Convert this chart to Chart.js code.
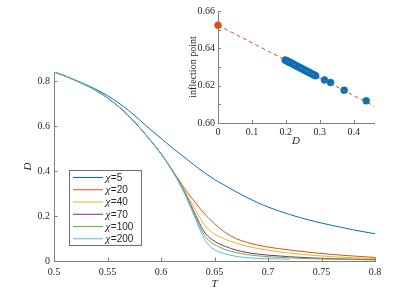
<!DOCTYPE html>
<html>
<head>
<meta charset="utf-8">
<script src="https://cdn.jsdelivr.net/npm/chart.js@4.4.1/dist/chart.umd.min.js"></script>
<style>
  html, body { margin: 0; padding: 0; background: #fff; }
  #wrap { position: relative; width: 415px; height: 291px; }
  #main { position: absolute; left: 0; top: 0; }
  #inset { position: absolute; left: 170px; top: 0; }
</style>
</head>
<body>
<div id="wrap">
  <canvas id="main" width="415" height="291" style="width:415px;height:291px"></canvas>
  <canvas id="inset" width="245" height="160" style="width:245px;height:160px"></canvas>
</div>
<script>
// T grid shared by the curves (finer around the drop)
var temps = [0.50, 0.51, 0.52, 0.53, 0.54, 0.55, 0.56, 0.57, 0.58, 0.59, 0.60,
             0.605, 0.61, 0.615, 0.62, 0.625, 0.63, 0.635, 0.64, 0.645, 0.65, 0.655, 0.66,
             0.67, 0.68, 0.69, 0.70, 0.72, 0.74, 0.76, 0.78, 0.80];

var chiLabels = ['5', '20', '40', '70', '100', '200'];
var chiColors = ['#0072BD', '#D95319', '#EDB120', '#7E2F8E', '#77AC30', '#4DBEEE'];

var dChi5   = [0.840, 0.823, 0.804, 0.784, 0.761, 0.735, 0.704, 0.668, 0.627, 0.585, 0.545,
               0.525, 0.505, 0.486, 0.468, 0.449, 0.430, 0.412, 0.395, 0.378, 0.362, 0.348, 0.335,
               0.308, 0.283, 0.260, 0.240, 0.207, 0.180, 0.158, 0.138, 0.121];
var dChi20  = [0.840, 0.823, 0.803, 0.781, 0.756, 0.725, 0.688, 0.644, 0.593, 0.537, 0.477,
               0.444, 0.409, 0.372, 0.336, 0.303, 0.272, 0.242, 0.213, 0.188, 0.166, 0.145, 0.127,
               0.100, 0.083, 0.071, 0.062, 0.049, 0.038, 0.029, 0.022, 0.016];
var dChi40  = [0.840, 0.823, 0.803, 0.781, 0.756, 0.725, 0.688, 0.644, 0.593, 0.537, 0.477,
               0.443, 0.407, 0.368, 0.328, 0.287, 0.245, 0.203, 0.165, 0.138, 0.120, 0.107, 0.096,
               0.080, 0.066, 0.056, 0.048, 0.035, 0.026, 0.019, 0.014, 0.011];
var dChi70  = [0.840, 0.823, 0.803, 0.781, 0.756, 0.725, 0.688, 0.644, 0.593, 0.537, 0.477,
               0.443, 0.406, 0.367, 0.325, 0.278, 0.228, 0.178, 0.133, 0.105, 0.088, 0.075, 0.065,
               0.049, 0.038, 0.031, 0.026, 0.019, 0.014, 0.010, 0.008, 0.006];
var dChi100 = [0.840, 0.823, 0.803, 0.781, 0.756, 0.725, 0.688, 0.644, 0.593, 0.537, 0.477,
               0.443, 0.406, 0.366, 0.323, 0.274, 0.221, 0.167, 0.119, 0.090, 0.073, 0.061, 0.051,
               0.038, 0.029, 0.023, 0.019, 0.014, 0.010, 0.008, 0.006, 0.005];
// chi=200 stops at T=0.72
var dChi200 = [0.840, 0.823, 0.803, 0.781, 0.756, 0.725, 0.688, 0.644, 0.593, 0.537, 0.477,
               0.442, 0.405, 0.364, 0.319, 0.268, 0.212, 0.155, 0.102, 0.068, 0.050, 0.039, 0.031,
               0.021, 0.015, 0.012, 0.010, 0.008];
var curves = [dChi5, dChi20, dChi40, dChi70, dChi100, dChi200];

var xTicks = [0.5, 0.55, 0.6, 0.65, 0.7, 0.75, 0.8];
var yTicks = [0, 0.2, 0.4, 0.6, 0.8];

// inset: inflection point vs D
var inflD = [0.198, 0.201, 0.204, 0.207, 0.210, 0.213, 0.216, 0.220, 0.224, 0.228, 0.232, 0.236,
             0.240, 0.244, 0.248, 0.252, 0.256, 0.260, 0.264, 0.268, 0.272, 0.276, 0.280, 0.284, 0.288,
             0.314, 0.332, 0.372, 0.437];
var inflT = [0.6337, 0.6335, 0.6332, 0.6329, 0.6326, 0.6323, 0.6321, 0.6317, 0.6313, 0.6309, 0.6305, 0.6302,
             0.6298, 0.6294, 0.6290, 0.6287, 0.6283, 0.6279, 0.6275, 0.6272, 0.6268, 0.6264, 0.6260, 0.6257, 0.6253,
             0.6231, 0.6217, 0.6176, 0.6119];
var limitD = [0];
var limitT = [0.6524];
var fitD = [0, 0.46];
var fitT = [0.6524, 0.6091];

var tickFont = { family: 'Liberation Serif', size: 10 };
var axisGray = '#7f7f7f';
var textDark = '#262626';

// MATLAB style ticks pointing into the axes
var inwardTicks = {
    id: 'inwardTicks',
    afterDraw: function(chart, args, opts) {
        var ctx = chart.ctx, area = chart.chartArea;
        var sx = chart.scales.x, sy = chart.scales.y;
        ctx.save();
        ctx.strokeStyle = axisGray;
        ctx.lineWidth = 1;
        ctx.beginPath();
        sx.ticks.forEach(function(t) {
            var px = Math.round(sx.getPixelForValue(t.value)) + 0.5;
            ctx.moveTo(px, area.bottom);
            ctx.lineTo(px, area.bottom - opts.length);
        });
        sy.ticks.forEach(function(t) {
            var py = Math.round(sy.getPixelForValue(t.value)) + 0.5;
            ctx.moveTo(area.left, py);
            ctx.lineTo(area.left + opts.length, py);
        });
        ctx.stroke();
        ctx.restore();
    }
};

// axis titles in serif
var axisTitles = {
    id: 'axisTitles',
    afterDraw: function(chart, args, opts) {
        var ctx = chart.ctx, area = chart.chartArea;
        ctx.save();
        ctx.fillStyle = textDark;
        ctx.textAlign = 'center';
        ctx.textBaseline = 'middle';
        ctx.font = opts.xFont;
        ctx.fillText(opts.x, (area.left + area.right) / 2, area.bottom + opts.xOffset);
        ctx.translate(area.left - opts.yOffset, (area.top + area.bottom) / 2);
        ctx.rotate(-Math.PI / 2);
        ctx.font = opts.yFont;
        ctx.fillText(opts.y, 0, 0);
        ctx.restore();
    }
};

// boxed legend inside the main axes
var boxLegend = {
    id: 'boxLegend',
    afterDraw: function(chart) {
        var ctx = chart.ctx;
        var bx = 69.5, by = 170.5, bw = 72, bh = 75;
        ctx.save();
        ctx.fillStyle = '#fff';
        ctx.fillRect(bx, by, bw, bh);
        ctx.strokeStyle = '#6e6e6e';
        ctx.lineWidth = 1;
        ctx.strokeRect(bx, by, bw, bh);
        chart.data.datasets.forEach(function(ds, i) {
            var y = 177.5 + i * 12.25;
            ctx.strokeStyle = ds.borderColor;
            ctx.lineWidth = 1;
            ctx.beginPath();
            ctx.moveTo(73, y);
            ctx.lineTo(103, y);
            ctx.stroke();
            ctx.fillStyle = textDark;
            ctx.textBaseline = 'middle';
            ctx.textAlign = 'left';
            ctx.font = 'italic 11px "Liberation Serif"';
            ctx.fillText('\u03c7', 105.5, y + 0.5);
            var w = ctx.measureText('\u03c7').width;
            ctx.font = '10px "Liberation Sans"';
            ctx.fillText('=' + chiLabels[i], 105.5 + w + 0.5, y + 0.5);
        });
        ctx.restore();
    }
};

var mainSets = curves.map(function(vals, i) {
    return {
        label: '\u03c7=' + chiLabels[i],
        data: vals.map(function(v, k) { return { x: temps[k], y: v }; }),
        borderColor: chiColors[i],
        borderWidth: 1,
        pointRadius: 0,
        fill: false,
        tension: 0,
        cubicInterpolationMode: 'monotone',
        order: curves.length - i
    };
});

new Chart(document.getElementById('main'), {
    type: 'line',
    data: { datasets: mainSets },
    options: {
        responsive: false,
        animation: false,
        layout: { padding: { left: 0, right: 40, top: 72, bottom: 0 } },
        plugins: {
            legend: { display: false },
            tooltip: { enabled: false },
            inwardTicks: { length: 3.5 },
            axisTitles: { x: 'T', y: 'D', xFont: 'italic 11px "Liberation Serif"',
                          yFont: 'italic 11px "Liberation Serif"', xOffset: 23, yOffset: 26 }
        },
        scales: {
            x: {
                type: 'linear', min: 0.5, max: 0.8,
                afterBuildTicks: function(s) { s.ticks = xTicks.map(function(v) { return { value: v }; }); },
                afterFit: function(s) { s.height = 30; },
                grid: { display: false, drawTicks: false },
                border: { color: axisGray, width: 1 },
                ticks: { font: tickFont, color: textDark, padding: 5, maxRotation: 0,
                         callback: function(v) { return String(+v.toFixed(2)); } }
            },
            y: {
                type: 'linear', min: 0, max: 0.84,
                afterBuildTicks: function(s) { s.ticks = yTicks.map(function(v) { return { value: v }; }); },
                afterFit: function(s) { s.width = 54; },
                grid: { display: false, drawTicks: false },
                border: { color: axisGray, width: 1 },
                ticks: { font: tickFont, color: textDark, padding: 4,
                         callback: function(v) { return String(+v.toFixed(2)); } }
            }
        }
    },
    plugins: [inwardTicks, axisTitles, boxLegend]
});

var insetYTicks = [0.60, 0.61, 0.62, 0.63, 0.64, 0.65, 0.66];
var insetXTicks = [0, 0.1, 0.2, 0.3, 0.4];

new Chart(document.getElementById('inset'), {
    type: 'scatter',
    data: {
        datasets: [
            {
                type: 'line',
                data: fitD.map(function(v, k) { return { x: v, y: fitT[k] }; }),
                borderColor: '#D95319',
                borderWidth: 1,
                borderDash: [4, 3],
                pointRadius: 0,
                order: 0
            },
            {
                data: limitD.map(function(v, k) { return { x: v, y: limitT[k] }; }),
                backgroundColor: '#D95319',
                borderColor: '#D95319',
                borderWidth: 0.5,
                pointRadius: 3.5,
                clip: false,
                order: 1
            },
            {
                data: inflD.map(function(v, k) { return { x: v, y: inflT[k] }; }),
                backgroundColor: '#0072BD',
                borderColor: '#0072BD',
                borderWidth: 0.5,
                pointRadius: 3.5,
                clip: false,
                order: 2
            }
        ]
    },
    options: {
        responsive: false,
        animation: false,
        layout: { padding: { left: 0, right: 41, top: 11, bottom: 0 } },
        plugins: {
            legend: { display: false },
            tooltip: { enabled: false },
            inwardTicks: { length: 3 },
            axisTitles: { x: 'D', y: 'inflection point', xFont: 'italic 11px "Liberation Serif"',
                          yFont: '10px "Liberation Serif"', xOffset: 18.5, yOffset: 25 }
        },
        scales: {
            x: {
                type: 'linear', min: 0, max: 0.46,
                afterBuildTicks: function(s) { s.ticks = insetXTicks.map(function(v) { return { value: v }; }); },
                afterFit: function(s) { s.height = 37; },
                grid: { display: false, drawTicks: false },
                border: { color: axisGray, width: 1 },
                ticks: { font: tickFont, color: textDark, padding: 3, maxRotation: 0,
                         callback: function(v) { return String(+v.toFixed(2)); } }
            },
            y: {
                type: 'linear', min: 0.60, max: 0.66,
                afterBuildTicks: function(s) { s.ticks = insetYTicks.map(function(v) { return { value: v }; }); },
                afterFit: function(s) { s.width = 48; },
                grid: { display: false, drawTicks: false },
                border: { color: axisGray, width: 1 },
                ticks: { font: tickFont, color: textDark, padding: 3,
                         callback: function(v) {
                             var c = Math.round(v * 100);
                             return c % 2 === 0 ? v.toFixed(2) : '';
                         } }
            }
        }
    },
    plugins: [inwardTicks, axisTitles]
});
</script>
</body>
</html>
